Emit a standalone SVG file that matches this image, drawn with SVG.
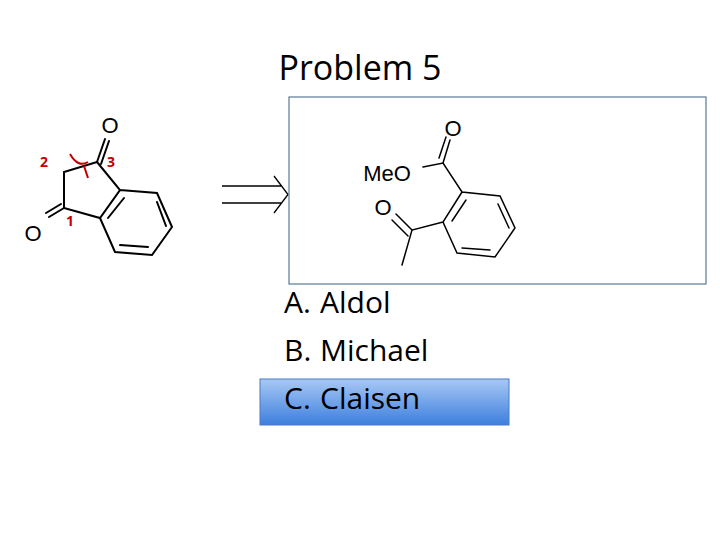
<svg xmlns="http://www.w3.org/2000/svg" width="720" height="540" viewBox="0 0 720 540">
<style>
.b{stroke:#000;stroke-width:2;fill:none;stroke-linecap:round}
.t{font-family:"Liberation Sans",Arial,sans-serif;fill:#000}
.r{font-family:"Open Sans",sans-serif;fill:#c00000;font-weight:bold;font-size:14px}
.o{font-family:"Open Sans",sans-serif;font-size:30px;fill:#000}
</style>
<defs><linearGradient id="g" x1="0" y1="0" x2="0" y2="1"><stop offset="0" stop-color="#a8c8f4"/><stop offset="1" stop-color="#3d7fde"/></linearGradient></defs>
<rect width="720" height="540" fill="#fff"/>
<text x="360" y="80" text-anchor="middle" style="font-family:'Open Sans',sans-serif;font-size:34px">Problem 5</text>
<g id="reactant">
<path class="b" d="M97,162 L64,172 L64,208 L100,218 L120,190 L97,162 M120,190 L157,193 L172,227 L152,255 L115,252 L100,218 M124,198 L108,218 M157,202 L166,226 M148,247 L120,245"/>
<path class="b" d="M97,162 L105,139 M101,164 L109,141 M64,208 L49,217 M61,204 L46,213"/>
<text class="t" x="110" y="133" font-size="22" text-anchor="middle">O</text>
<text class="t" x="33" y="241" font-size="22" text-anchor="middle">O</text>
<path d="M70,154 Q78,168 88,162 M84,166 L88,178" stroke="#c00000" stroke-width="2" fill="none"/>
<text class="r" x="40" y="167">2</text>
<text class="r" x="107" y="167">3</text>
<text class="r" x="66" y="226">1</text>
</g>
<g id="connectors">
<path d="M222,186 L282,186 M222,203 L282,203 M274,176 L288,194.5 L274,213" stroke="#000" stroke-width="1.3" fill="none"/>
</g>
<g id="product">
<rect x="289" y="97" width="417" height="187" fill="none" stroke="#5a7a95" stroke-width="1.2"/>
<path class="b" style="stroke-width:1.5" d="M423,167 L443,163 L462,192 L500,196 L515,228 L495,257 L457,253 L443,222 L462,192 M466,200 L452,221 M498,204 L509,228 M490,250 L462,248 M443,222 L412,230 L402,265 M443,163 L450,140 M439,158 L446,137 M412,230 L396,214 M408,236 L392,220"/>
<text class="t" x="453" y="136" font-size="22" text-anchor="middle">O</text>
<text class="t" x="387" y="181" font-size="22" text-anchor="middle">MeO</text>
<text class="t" x="383" y="215" font-size="22" text-anchor="middle">O</text>
</g>
<g id="options">
<rect x="260" y="379" width="249" height="46" fill="url(#g)" stroke="#4a7bbf" stroke-width="1"/>
<text class="o" x="284" y="313">A.</text><text class="o" x="320" y="313">Aldol</text>
<text class="o" x="284" y="361">B.</text><text class="o" x="320" y="361">Michael</text>
<text class="o" x="284" y="409">C.</text><text class="o" x="320" y="409">Claisen</text>
</g>
</svg>
